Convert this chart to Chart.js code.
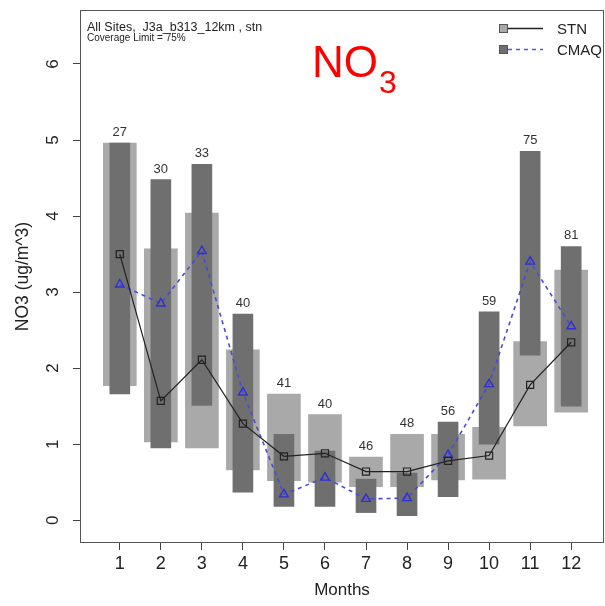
<!DOCTYPE html>
<html>
<head>
<meta charset="utf-8">
<script src="https://cdn.jsdelivr.net/npm/chart.js@4/dist/chart.umd.min.js"></script>
<style>
  html, body { margin: 0; padding: 0; background: #fff; }
  #wrap { width: 605px; height: 606px; }
</style>
</head>
<body>
<div id="wrap"><canvas id="noChart" width="605" height="606"></canvas></div>
<script>
// monthly NO3 distributions (25th-75th percentile boxes) and medians
const months = [1, 2, 3, 4, 5, 6, 7, 8, 9, 10, 11, 12];
const counts = [27, 30, 33, 40, 41, 40, 46, 48, 56, 59, 75, 81];
const stnLow = [1.77, 1.03, 0.95, 0.66, 0.52, 0.50, 0.44, 0.44, 0.53, 0.54, 1.24, 1.42];
const stnHigh = [4.96, 3.57, 4.04, 2.24, 1.66, 1.39, 0.83, 1.13, 1.13, 1.22, 2.35, 3.29];
const cmaqLow = [1.66, 0.95, 1.51, 0.37, 0.18, 0.18, 0.10, 0.06, 0.31, 1.00, 2.17, 1.50];
const cmaqHigh = [4.96, 4.48, 4.68, 2.71, 1.13, 0.91, 0.54, 0.62, 1.29, 2.74, 4.85, 3.60];
const stnMedian = [3.50, 1.57, 2.11, 1.27, 0.84, 0.88, 0.64, 0.64, 0.78, 0.85, 1.78, 2.34];
const cmaqMedian = [3.10, 2.85, 3.54, 1.68, 0.34, 0.56, 0.28, 0.29, 0.86, 1.79, 3.40, 2.55];
const yTicks = [0, 1, 2, 3, 4, 5, 6];

const FONT = "'Liberation Sans', Arial, Helvetica, sans-serif";
const LIGHT = "#a9a9a9";
const DARK = "#6f6f6f";
const BLUE = "#4a4ad8";

// box, counts, titles and legend
const decorations = {
  id: "decorations",
  afterDatasetsDraw(chart) {
    const { ctx, chartArea: a, scales: { x, y } } = chart;
    ctx.save();
    ctx.strokeStyle = "#555";
    ctx.lineWidth = 1;
    ctx.strokeRect(a.left + 0.5, a.top + 0.5, a.right - a.left - 1, a.bottom - a.top - 1);

    // sample counts above each month
    ctx.fillStyle = "#333";
    ctx.font = "13px " + FONT;
    ctx.textAlign = "center";
    ctx.textBaseline = "alphabetic";
    months.forEach((m, i) => {
      const top = Math.max(stnHigh[i], cmaqHigh[i]);
      ctx.fillText(String(counts[i]), x.getPixelForValue(m), y.getPixelForValue(top) - 7);
    });

    // top-left caption
    ctx.textAlign = "left";
    ctx.fillStyle = "#222";
    ctx.font = "12.5px " + FONT;
    ctx.fillText("All Sites,  J3a_b313_12km , stn", 87, 31);
    ctx.font = "10px " + FONT;
    ctx.fillText("Coverage Limit = 75%", 87, 41);

    // NO3 title
    ctx.fillStyle = "#ff0000";
    ctx.font = "44px " + FONT;
    ctx.fillText("NO", 312, 77);
    const w = ctx.measureText("NO").width;
    ctx.font = "32px " + FONT;
    ctx.fillText("3", 312 + w + 1, 93);

    // legend
    const rows = [
      { label: "STN", fill: LIGHT, line: "#222", dash: [], y: 28 },
      { label: "CMAQ", fill: DARK, line: "#5555ee", dash: [4, 4], y: 49 }
    ];
    rows.forEach(r => {
      ctx.setLineDash(r.dash);
      ctx.strokeStyle = r.line;
      ctx.lineWidth = 1.5;
      ctx.beginPath();
      ctx.moveTo(508, r.y + 0.5);
      ctx.lineTo(543, r.y + 0.5);
      ctx.stroke();
      ctx.setLineDash([]);
      ctx.fillStyle = r.fill;
      ctx.fillRect(499, r.y - 4, 9, 9);
      ctx.strokeStyle = "#555";
      ctx.lineWidth = 1;
      ctx.strokeRect(499.5, r.y - 3.5, 8, 8);
      ctx.fillStyle = "#222";
      ctx.font = "15px " + FONT;
      ctx.fillText(r.label, 557, r.y + 6);
    });
    ctx.restore();
  }
};

const noPad = s => { s.paddingTop = 0; s.paddingBottom = 0; s.paddingLeft = 0; s.paddingRight = 0; };

new Chart(document.getElementById("noChart").getContext("2d"), {
  type: "bar",
  data: {
    datasets: [
      {
        type: "line",
        label: "STN",
        data: months.map((m, i) => ({ x: m, y: stnMedian[i] })),
        borderColor: "#222",
        borderWidth: 1.2,
        pointStyle: "rect",
        pointRadius: 5,
        pointBorderWidth: 1.2,
        pointBorderColor: "#222",
        pointBackgroundColor: "rgba(0,0,0,0)",
        tension: 0,
        order: 0
      },
      {
        type: "line",
        label: "CMAQ",
        data: months.map((m, i) => ({ x: m, y: cmaqMedian[i] })),
        borderColor: BLUE,
        borderWidth: 1.6,
        borderDash: [4, 4],
        pointStyle: "triangle",
        pointRadius: 5,
        pointBorderWidth: 1.4,
        pointBorderColor: "#3030d0",
        pointBackgroundColor: "rgba(0,0,0,0)",
        tension: 0,
        order: 0
      },
      {
        label: "CMAQ box",
        data: months.map((m, i) => ({ x: m, y: [cmaqLow[i], cmaqHigh[i]] })),
        backgroundColor: DARK,
        borderWidth: 0,
        barThickness: 20,
        grouped: false,
        order: 1
      },
      {
        label: "STN box",
        data: months.map((m, i) => ({ x: m, y: [stnLow[i], stnHigh[i]] })),
        backgroundColor: LIGHT,
        borderWidth: 0,
        barThickness: 33,
        grouped: false,
        order: 2
      }
    ]
  },
  options: {
    responsive: false,
    animation: false,
    layout: { autoPadding: false, padding: { top: 10, right: 1, left: 0, bottom: 0 } },
    plugins: { legend: { display: false }, tooltip: { enabled: false } },
    scales: {
      x: {
        type: "linear",
        offset: false,
        min: 0.03,
        max: 12.8,
        afterBuildTicks: s => { s.ticks = months.map(v => ({ value: v })); },
        afterFit: s => { s.height = 63; noPad(s); },
        grid: { display: true, offset: false, drawOnChartArea: false, drawTicks: true, tickLength: 7, color: "#444" },
        border: { display: false },
        ticks: { autoSkip: false, color: "#222", padding: 3, font: { family: FONT, size: 18 } },
        title: { display: true, text: "Months", color: "#222", font: { family: FONT, size: 17 }, padding: { top: 0, bottom: 5 } }
      },
      y: {
        min: -0.30,
        max: 6.71,
        afterBuildTicks: s => { s.ticks = yTicks.map(v => ({ value: v })); },
        afterFit: s => { s.width = 80; noPad(s); },
        grid: { display: true, drawOnChartArea: false, drawTicks: true, tickLength: 7, color: "#444" },
        border: { display: false },
        ticks: { autoSkip: false, minRotation: 90, maxRotation: 90, crossAlign: "center", color: "#222", padding: 15, font: { family: FONT, size: 17 } },
        title: { display: true, text: "NO3 (ug/m^3)", color: "#222", font: { family: FONT, size: 17.5 }, padding: { top: 13, bottom: 0 } }
      }
    }
  },
  plugins: [decorations]
});
</script>
</body>
</html>
